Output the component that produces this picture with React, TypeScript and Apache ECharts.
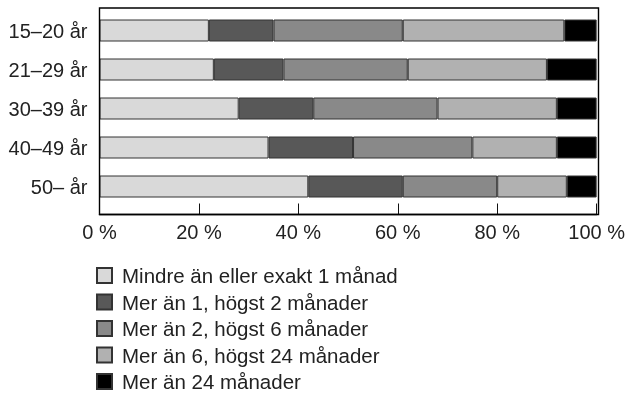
import React, { useEffect, useRef } from "react";
import * as echarts from "echarts";

const categories = ["15–20 år", "21–29 år", "30–39 år", "40–49 år", "50– år"];
const seriesNames = [
  "Mindre än eller exakt 1 månad",
  "Mer än 1, högst 2 månader",
  "Mer än 2, högst 6 månader",
  "Mer än 6, högst 24 månader",
  "Mer än 24 månader",
];
const upTo1 = [22, 23, 28, 34, 42];
const from1to2 = [13, 14, 15, 17, 19];
const from2to6 = [26, 25, 25, 24, 19];
const from6to24 = [32.5, 28, 24, 17, 14];
const over24 = [6.5, 10, 8, 8, 6];
const xTicks = [0, 20, 40, 60, 80, 100];

const colors = ["#d9d9d9", "#585858", "#898989", "#b1b1b1", "#000000"];
const FONT = "Liberation Sans, Arial, sans-serif";

const L = 99.5;
const R = 598.5;
const T = 8;
const B = 214.5;

export default function App() {
  const ref = useRef<HTMLDivElement>(null);
  useEffect(() => {
    if (!ref.current) return;
    const chart = echarts.init(ref.current, null, { renderer: "svg" });
    const values = [upTo1, from1to2, from2to6, from6to24, over24];
    chart.setOption({
      animation: false,
      textStyle: { fontFamily: FONT },
      grid: [
        {
          left: L,
          right: 628 - R,
          top: T,
          height: B - T,
          show: true,
          backgroundColor: "transparent",
          borderColor: "#000",
          borderWidth: 1.4,
          z: 10,
        },
        { left: L, right: 628 - R, top: 11, height: 195 },
      ],
      xAxis: [
        { gridIndex: 0, type: "value", min: 0, max: 1, show: false },
        {
          gridIndex: 1,
          type: "value",
          min: xTicks[0],
          max: xTicks[xTicks.length - 1],
          interval: 20,
          offset: B - 206,
          axisLine: { show: true, lineStyle: { color: "#000", width: 1.4 } },
          axisTick: { show: true, inside: true, length: 11, lineStyle: { color: "#111" } },
          splitLine: { show: false },
          axisLabel: {
            formatter: "{value} %",
            fontSize: 20,
            color: "#222",
            margin: 7,
            fontFamily: FONT,
          },
        },
      ],
      yAxis: [
        { gridIndex: 0, type: "value", min: 0, max: 1, show: false },
        {
          gridIndex: 1,
          type: "category",
          inverse: true,
          data: categories,
          axisLine: { show: false },
          axisTick: { show: false },
          axisLabel: { fontSize: 20, color: "#222", margin: 12, fontFamily: FONT },
        },
      ],
      legend: {
        orient: "vertical",
        left: 96,
        top: 265,
        padding: 0,
        itemWidth: 15,
        itemHeight: 15,
        itemGap: 5.5,
        icon: "rect",
        textStyle: { fontSize: 20.5, color: "#222", fontFamily: FONT, padding: [0, 0, 0, 5] },
        data: seriesNames,
      },
      series: seriesNames.map((name, i) => ({
        name,
        type: "bar",
        stack: "total",
        xAxisIndex: 1,
        yAxisIndex: 1,
        barWidth: 22,
        data: values[i],
        itemStyle: { color: colors[i], borderColor: "#333", borderWidth: 1 },
      })),
    });
    return () => chart.dispose();
  }, []);
  return (
    <div
      ref={ref}
      style={{ position: "fixed", left: 0, top: 0, width: 628, height: 403 }}
    />
  );
}
